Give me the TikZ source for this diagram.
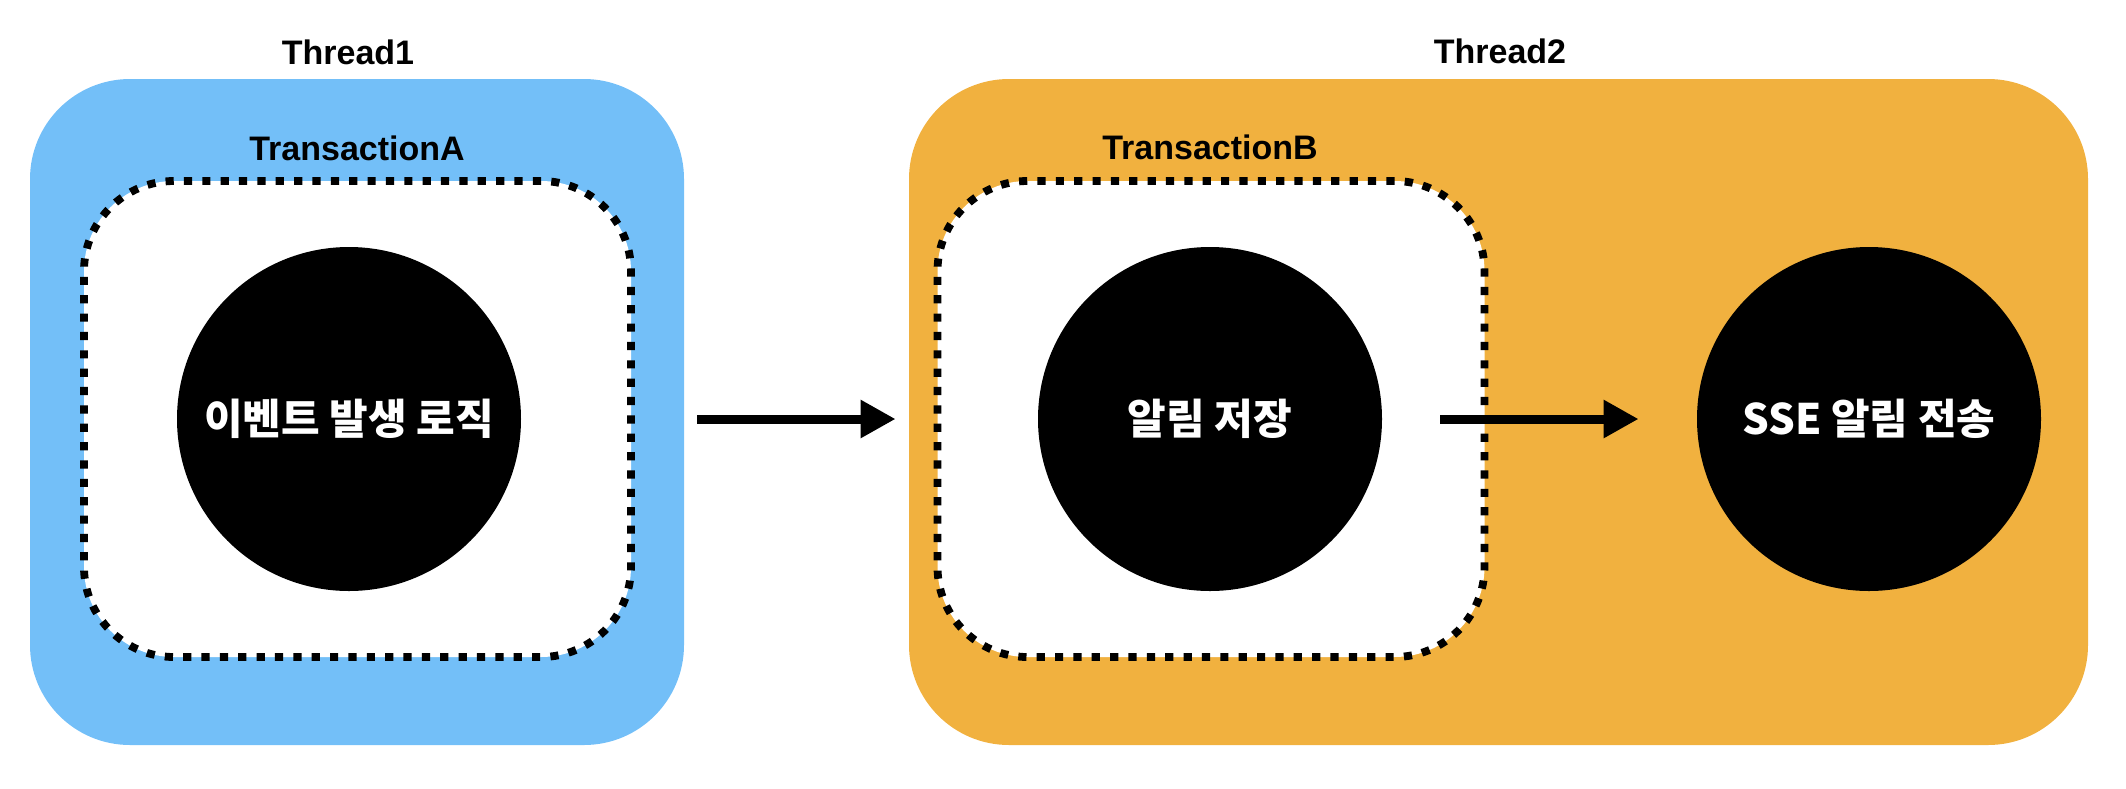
\documentclass[tikz,border=0pt]{standalone}
\usepackage{fontspec}
\setmainfont{Liberation Sans}
\newfontfamily\krfont{Noto Sans CJK KR}
\usetikzlibrary{arrows.meta}
\definecolor{threadblue}{HTML}{73BFF8}
\definecolor{threadorange}{HTML}{F1B13F}
\tikzset{
  threadbox/.style={rectangle, rounded corners=50pt, inner sep=0pt, minimum height=333pt},
  txbox/.style={rectangle, rounded corners=45pt, fill=white, draw=black, line width=3.9pt,
     dash pattern=on 4.1pt off 5.0816pt, inner sep=0pt, minimum width=273.5pt, minimum height=238pt},
  proc/.style={circle, fill=black, inner sep=0pt, minimum size=172pt, text=white,
     font=\krfont\bfseries\fontsize{21pt}{24pt}\selectfont},
  lbl/.style={inner sep=0pt, font=\bfseries\fontsize{17pt}{20pt}\selectfont},
  flow/.style={line width=4.5pt, -{Triangle[length=17.5pt,width=18pt]}}
}
\begin{document}
\begin{tikzpicture}[x=0.5pt,y=-0.5pt]
\useasboundingbox (0,0) rectangle (2126,788);
% thread boxes
\node[threadbox, fill=threadblue, minimum width=327pt] (t1) at (357,412) {};
\node[threadbox, fill=threadorange, minimum width=589.5pt] (t2) at (1498.5,412) {};
% transaction boxes
\node[txbox] (txa) at (357.5,419) {};
\node[txbox] (txb) at (1211,419) {};
% labels
\node[lbl] (l1) at (348,52) {Thread1};
\node[lbl] (l2) at (1500,51) {Thread2};
\node[lbl] (la) at (357,148) {TransactionA};
\node[lbl] (lb) at (1210,147) {TransactionB};
% processes
\node[proc] (ca) at (349,419) {이벤트 발생 로직};
\node[proc] (cb) at (1210,419) {알림 저장};
\node[proc] (cc) at (1869,419) {SSE 알림 전송};
% arrows
\draw[flow, shorten <=88pt, shorten >=6.5pt] (ca.east) -- (t2.west |- ca.east);
\draw[flow, shorten <=29pt, shorten >=29pt] (cb.east) -- (cc.west);
\end{tikzpicture}
\end{document}
